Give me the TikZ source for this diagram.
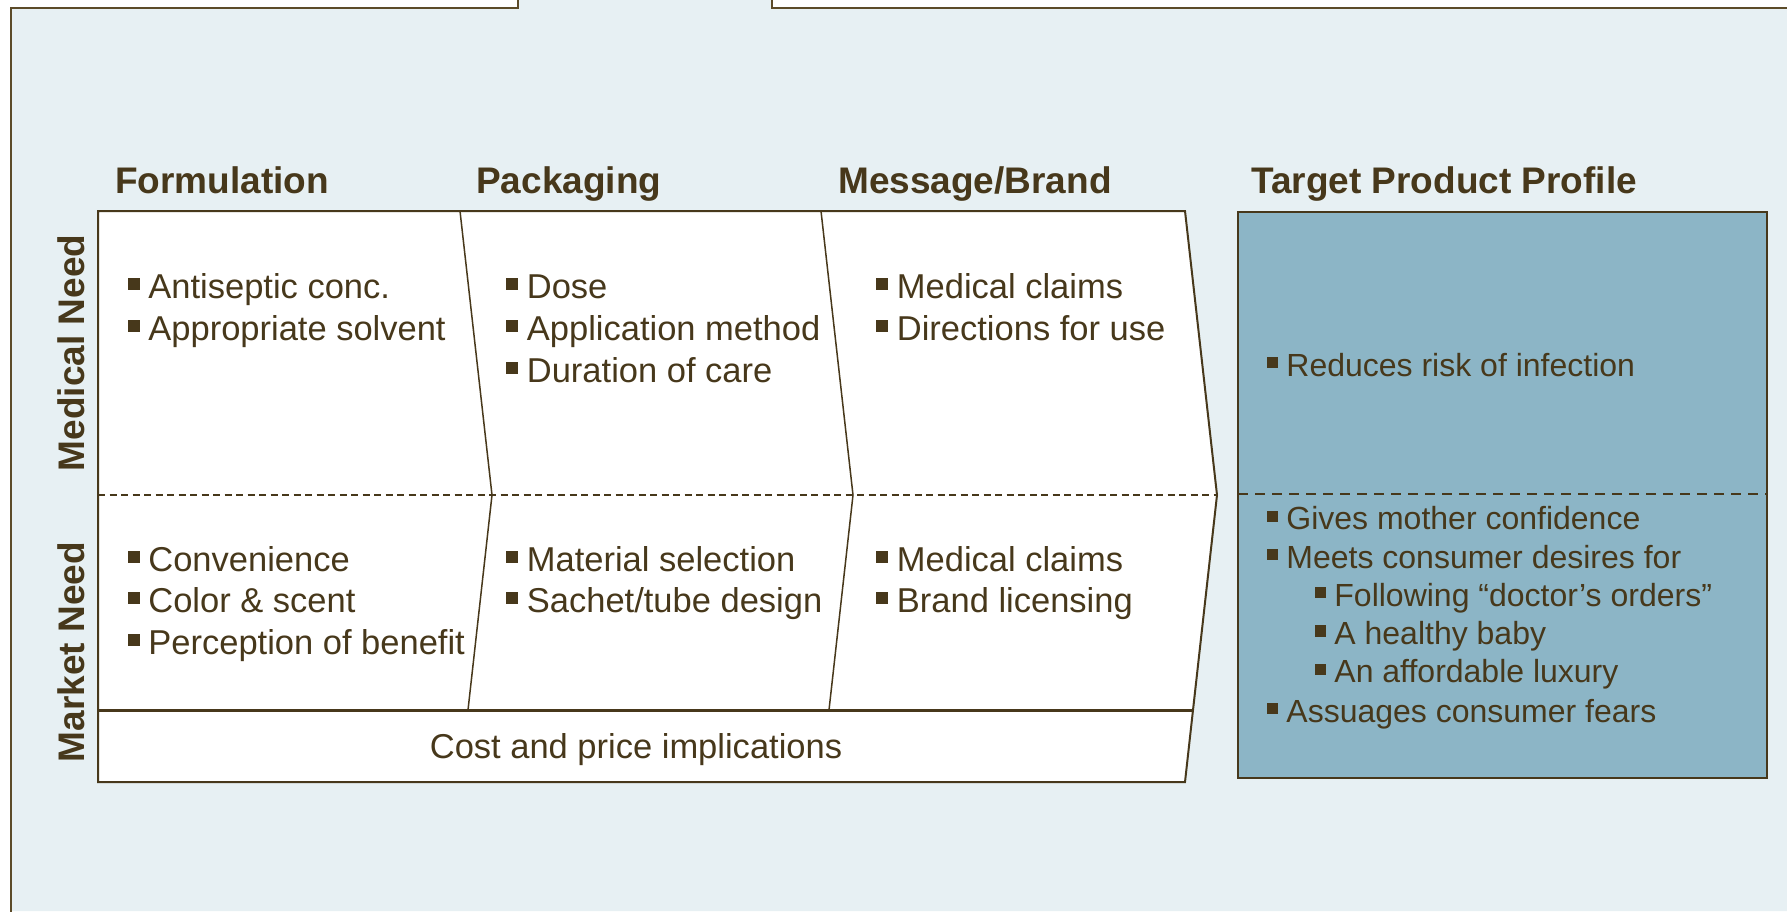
\documentclass[tikz,border=0pt]{standalone}
\usepackage{fontspec}
\setmainfont{Liberation Sans}
\usepackage{tikz}
\usetikzlibrary{positioning,calc}

\definecolor{inkbrown}{HTML}{47381B}
\definecolor{framebrown}{HTML}{5C4B29}
\definecolor{paleblue}{HTML}{E7F0F3}
\definecolor{tppblue}{HTML}{8CB5C6}

% small square bullet in front of each item
\newcommand{\sqbul}{\rule[0.24em]{0.35em}{0.35em}\hspace{0.25em}}

\tikzset{
  item/.style={anchor=base west, inner sep=0pt, text=inkbrown, font=\fontsize{34.5}{41}\selectfont},
  tppitem/.style={item, font=\fontsize{32}{38}\selectfont},
  header/.style={anchor=base west, inner sep=0pt, text=inkbrown, font=\fontsize{37}{44}\selectfont\bfseries},
  rowlabel/.style={inner sep=0pt, text=inkbrown, rotate=90, font=\fontsize{37}{44}\selectfont\bfseries},
}

\begin{document}
\begin{tikzpicture}[x=1pt, y=-1pt]
  \useasboundingbox (0,0) rectangle (1787,911);

  % Folder frame with tab
  \fill[paleblue] (11,8) -- (518,8) -- (518,0) -- (772,0) -- (772,8) -- (1787,8) -- (1787,911) -- (11,911) -- cycle;
  \draw[framebrown, line width=2.5pt] (518,-2) -- (518,8) -- (11,8) -- (11,915);
  \draw[framebrown, line width=2.5pt] (772,-2) -- (772,8) -- (1790,8);

  % Column headers
  \node[header] (formhd) at (115,193) {Formulation};
  \node[header] (packhd) at (476,193) {Packaging};
  \node[header] (msghd) at (838,193) {Message/Brand};
  \node[header] (tpphd) at (1251,193) {Target Product Profile};

  % Row labels
  \node[rowlabel] (medlbl) at (71,353) {Medical Need};
  \node[rowlabel] (mktlbl) at (71,652) {Market Need};

  % Chevron block
  \fill[white] (98,211) -- (1185,211) -- (1217,495) -- (1193,710) -- (1185,782) -- (98,782) -- cycle;
  \draw[inkbrown, line width=1.2pt, dash pattern=on 7pt off 4.5pt] (98,495) -- (1217,495);
  \foreach \x in {460,821} {
    \draw[inkbrown, line width=1.5pt] (\x,211) -- (\x+32,495) -- (\x+8,710);
  }
  \draw[inkbrown, line width=2pt] (98,211) -- (1185,211) -- (1217,495) -- (1193,710) -- (1185,782) -- (98,782) -- cycle;
  \draw[inkbrown, line width=3pt] (98,710) -- (1193,710);

  % Medical need items
  \foreach \txt [count=\i] in {Antiseptic conc., Appropriate solvent}
    \node[item] (formmed\i) at (127.5, {298+42*(\i-1)}) {\sqbul\txt};
  \foreach \txt [count=\i] in {Dose, Application method, Duration of care}
    \node[item] (packmed\i) at (506, {298+42*(\i-1)}) {\sqbul\txt};
  \foreach \txt [count=\i] in {Medical claims, Directions for use}
    \node[item] (msgmed\i) at (876, {298+42*(\i-1)}) {\sqbul\txt};

  % Market need items
  \foreach \txt [count=\i] in {Convenience, Color \& scent, Perception of benefit}
    \node[item] (formmkt\i) at (127.5, {571+41.5*(\i-1)}) {\sqbul\txt};
  \foreach \txt [count=\i] in {Material selection, Sachet/tube design}
    \node[item] (packmkt\i) at (506, {571+41.5*(\i-1)}) {\sqbul\txt};
  \foreach \txt [count=\i] in {Medical claims, Brand licensing}
    \node[item] (msgmkt\i) at (876, {571+41.5*(\i-1)}) {\sqbul\txt};

  \node[item, anchor=base] (costtxt) at (636,758) {Cost and price implications};

  % Target product profile
  \draw[draw=inkbrown, fill=tppblue, line width=2.5pt] (1238,212) rectangle (1767,778);
  \draw[inkbrown, line width=2.5pt, dash pattern=on 10pt off 7pt] (1238,494) -- (1767,494);

  \node[tppitem] (tppmed) at (1267,376) {\sqbul Reduces risk of infection};
  \node[tppitem] (tppmkt1) at (1267,529.5) {\sqbul Gives mother confidence};
  \node[tppitem] (tppmkt2) at (1267,568) {\sqbul Meets consumer desires for};
  \foreach \txt [count=\i] in {Following “doctor’s orders”, A healthy baby, An affordable luxury}
    \node[tppitem] (tppsub\i) at (1315, {606+38.3*(\i-1)}) {\sqbul\txt};
  \node[tppitem] (tppmkt3) at (1267,722) {\sqbul Assuages consumer fears};
\end{tikzpicture}
\end{document}
